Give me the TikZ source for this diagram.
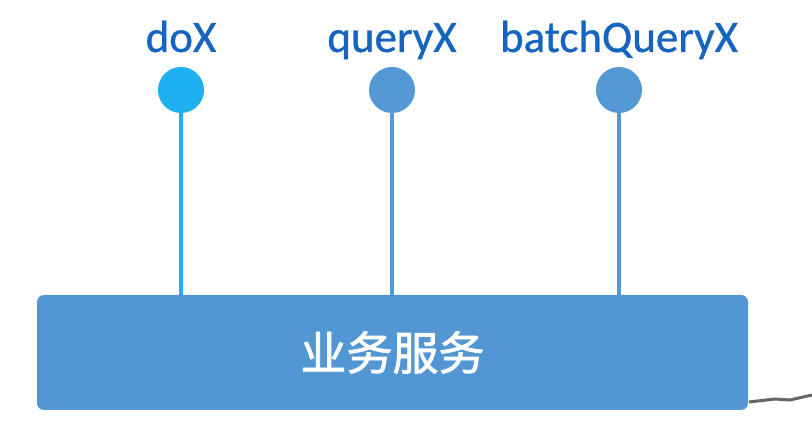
\documentclass[tikz,border=0pt]{standalone}
\usepackage{fontspec}
\setmainfont{Carlito}[FakeBold=0.8, AutoFakeBold=0.8]
\newfontfamily\cjk{Noto Sans CJK SC}[FakeBold=1.6]
\usetikzlibrary{positioning}
\definecolor{lblue}{HTML}{1565C0}
\definecolor{cyanpin}{HTML}{1EB0F0}
\definecolor{bluepin}{HTML}{5499D5}
\definecolor{boxblue}{HTML}{5297D4}

\begin{document}
\begin{tikzpicture}[x=1pt, y=-1pt,
    pinnode/.style={circle, fill=#1, minimum size=46pt, inner sep=0pt},
    labelnode/.style={anchor=base, text=lblue, font=\fontsize{45}{50}\selectfont},
    pinline/.style={draw=#1, line width=4pt},
    servicebox/.style={rectangle, rounded corners=7pt, fill=boxblue, minimum width=711pt, minimum height=115pt, text=white, font=\cjk\fontsize{46}{50}\selectfont}]

        \useasboundingbox (0,0) rectangle (812,430);

        \node[servicebox] (svc) at (392.5,352.5) {业务服务};

        \node[pinnode=cyanpin] (p1) at (181,90) {};
        \node[pinnode=bluepin] (p2) at (392,90) {};
        \node[pinnode=bluepin] (p3) at (619,90) {};

        \node[labelnode] (l1) at (181,52) {doX};
        \node[labelnode] (l2) at (392,52) {queryX};
        \node[labelnode] (l3) at (619,52) {batchQueryX};

        \draw[pinline=cyanpin] (p1) -- (p1 |- svc.north);
        \draw[pinline=bluepin] (p2) -- (p2 |- svc.north);
        \draw[pinline=bluepin] (p3) -- (p3 |- svc.north);

        % stray mark at the lower right
        \draw[gray!80!black, line width=3pt] (749,402) -- (775,399) -- (790,400) -- (812,395);

        \end{tikzpicture}
\end{document}
